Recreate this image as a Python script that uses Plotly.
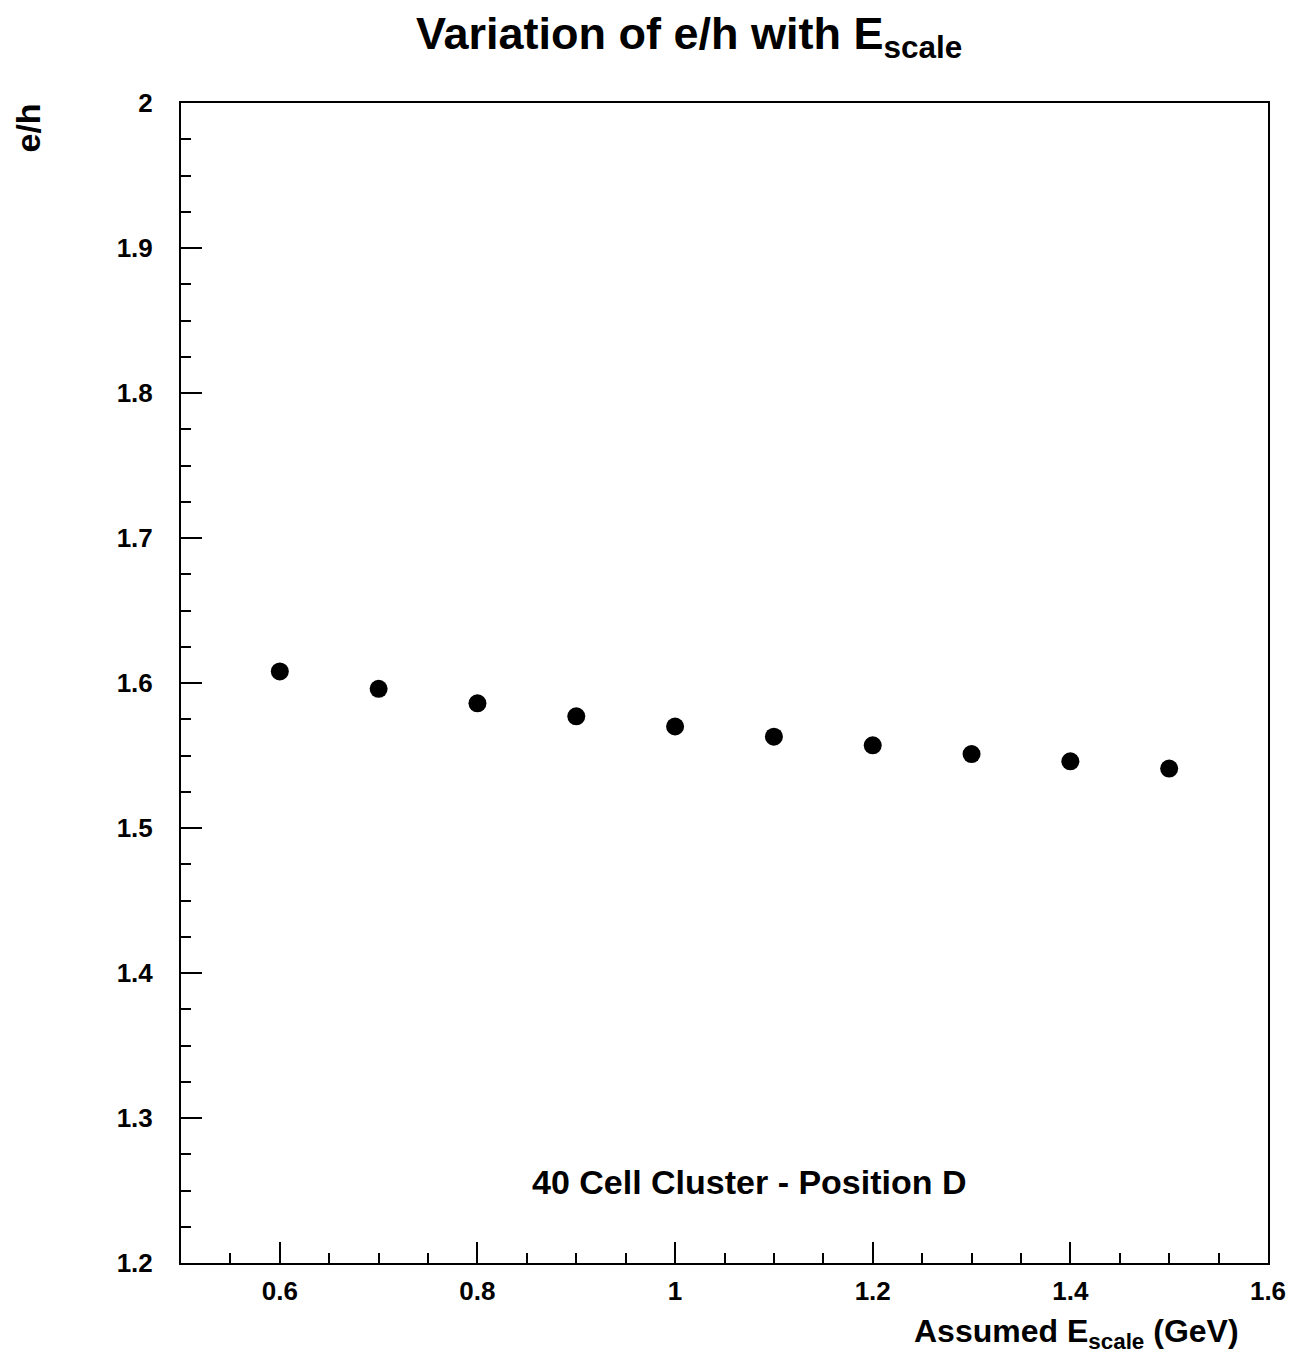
import plotly.graph_objects as go

escale = [0.6, 0.7, 0.8, 0.9, 1.0, 1.1, 1.2, 1.3, 1.4, 1.5]
eh = [1.608, 1.596, 1.586, 1.577, 1.570, 1.563, 1.557, 1.551, 1.546, 1.541]

x_ticks = [0.6, 0.8, 1.0, 1.2, 1.4, 1.6]
x_ticklabels = ["0.6", "0.8", "1", "1.2", "1.4", "1.6"]
y_ticks = [1.2, 1.3, 1.4, 1.5, 1.6, 1.7, 1.8, 1.9, 2.0]
y_ticklabels = ["1.2", "1.3", "1.4", "1.5", "1.6", "1.7", "1.8", "1.9", "2"]

FONT = "Liberation Sans, Arial, sans-serif"

fig = go.Figure()
fig.add_trace(go.Scatter(
    x=escale, y=eh, mode="markers",
    marker=dict(symbol="circle", size=18, color="black"),
    showlegend=False,
))

fig.update_layout(
    width=1292, height=1349,
    margin=dict(l=173, r=32, t=95, b=94),
    paper_bgcolor="white", plot_bgcolor="white",
    font=dict(family=FONT, color="black"),
)

fig.update_xaxes(
    range=[0.5, 1.6], showgrid=False, zeroline=False,
    showline=True, linecolor="black", linewidth=2, mirror=True,
    ticks="inside", ticklen=21, tickwidth=2, tickcolor="black",
    tickvals=x_ticks, ticktext=x_ticklabels,
    tickfont=dict(family=FONT, size=26, color="black", weight="bold"),
    ticklabelstandoff=4,
    minor=dict(dtick=0.05, tick0=0.5, ticks="inside", ticklen=10, tickwidth=2, tickcolor="black", showgrid=False),
)
fig.update_yaxes(
    range=[1.2, 2.0], showgrid=False, zeroline=False,
    showline=True, linecolor="black", linewidth=2, mirror=True,
    ticks="inside", ticklen=21, tickwidth=2, tickcolor="black",
    tickvals=y_ticks, ticktext=y_ticklabels,
    tickfont=dict(family=FONT, size=26, color="black", weight="bold"),
    ticklabelstandoff=21,
    minor=dict(dtick=0.025, tick0=1.2, ticks="inside", ticklen=10, tickwidth=2, tickcolor="black", showgrid=False),
)

annots = [
    dict(text="<b>Variation of e/h with E<sub>scale</sub></b>",
         xref="paper", yref="paper", x=0.467, y=1, yshift=36,
         xanchor="center", yanchor="bottom", showarrow=False,
         font=dict(family=FONT, size=45, color="black")),
    dict(text="<b>Assumed E<sub>scale</sub> (GeV)</b>",
         xref="paper", yref="paper", x=1, xshift=-27, y=0, yshift=-48,
         xanchor="right", yanchor="top", showarrow=False,
         font=dict(family=FONT, size=32, color="black")),
    dict(text="<b>e/h</b>",
         xref="paper", yref="paper", x=0, xshift=-154, y=1, yshift=1,
         xanchor="center", yanchor="top", textangle=-90, showarrow=False,
         font=dict(family=FONT, size=34, color="black")),
    dict(text="<b>40 Cell Cluster - Position D</b>",
         xref="x", yref="y", x=1.075, y=1.256,
         xanchor="center", yanchor="middle", showarrow=False,
         font=dict(family=FONT, size=34, color="black")),
]
fig.update_layout(annotations=annots)

fig.write_html("out.html")
